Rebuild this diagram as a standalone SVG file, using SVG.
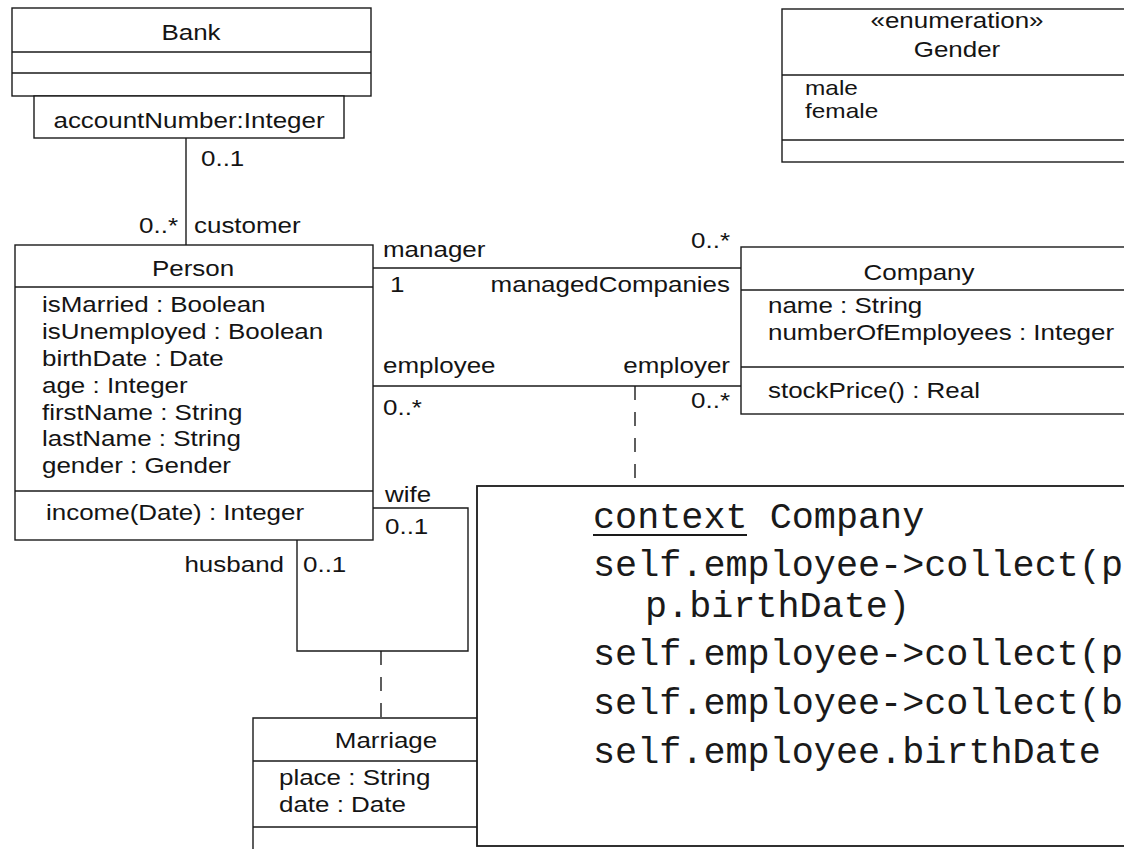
<svg xmlns="http://www.w3.org/2000/svg" width="1124" height="849" viewBox="0 0 1124 849">
  <style>
    .box { fill: #ffffff; stroke: #1a1a1a; stroke-width: 1.4; }
    .div { fill: none; stroke: #1a1a1a; stroke-width: 1.4; }
    .link { fill: none; stroke: #1a1a1a; stroke-width: 1.4; }
    .dash { fill: none; stroke: #1a1a1a; stroke-width: 1.4; stroke-dasharray: 14 12; }
    .t { font-family: "Liberation Sans", Arial, sans-serif; font-size: 22px; fill: #141414; }
    .m { text-anchor: middle; }
    .e { text-anchor: end; }
    .code { font-family: "Liberation Mono", "Courier New", monospace; font-size: 36.8px; fill: #1a1a1a; }
  </style>

  <rect width="1124" height="849" fill="#ffffff"/>

  <!-- connectors -->
  <g id="connectors">
    <!-- Bank qualifier to Person -->
    <line class="link" x1="186" y1="138" x2="186" y2="245"/>
    <!-- manager / managedCompanies -->
    <line class="link" x1="373" y1="268" x2="741" y2="268"/>
    <!-- employee / employer -->
    <line class="link" x1="373" y1="386" x2="741" y2="386"/>
    <line class="dash" x1="635" y1="386" x2="635" y2="486"/>
    <!-- wife / husband self association -->
    <polyline class="link" points="373,508 468,508 468,651 297,651 297,540"/>
    <line class="dash" x1="381" y1="651" x2="381" y2="718"/>

    <g class="t">
      <text transform="translate(201 166) scale(1.18 1)">0..1</text>
      <text class="e" transform="translate(178 233) scale(1.18 1)">0..*</text>
      <text transform="translate(194 233) scale(1.18 1)">customer</text>

      <text transform="translate(383 257) scale(1.18 1)">manager</text>
      <text class="e" transform="translate(730 248) scale(1.18 1)">0..*</text>
      <text transform="translate(390 292) scale(1.18 1)">1</text>
      <text class="e" transform="translate(730 292) scale(1.18 1)">managedCompanies</text>

      <text transform="translate(383 373) scale(1.18 1)">employee</text>
      <text class="e" transform="translate(730 373) scale(1.18 1)">employer</text>
      <text transform="translate(383 415) scale(1.18 1)">0..*</text>
      <text class="e" transform="translate(730 408) scale(1.18 1)">0..*</text>

      <text transform="translate(385 502) scale(1.18 1)">wife</text>
      <text transform="translate(385 534) scale(1.18 1)">0..1</text>
      <text class="e" transform="translate(284 572) scale(1.18 1)">husband</text>
      <text transform="translate(303 572) scale(1.18 1)">0..1</text>
    </g>
  </g>

  <!-- Bank with qualifier -->
  <g id="bank" class="t">
    <rect class="box" x="12" y="8" width="359" height="88"/>
    <line class="div" x1="12" y1="52" x2="371" y2="52"/>
    <line class="div" x1="12" y1="73" x2="371" y2="73"/>
    <text class="m" transform="translate(191 40) scale(1.18 1)">Bank</text>
    <rect class="box" x="34" y="96" width="310" height="42"/>
    <text class="m" transform="translate(189 128) scale(1.18 1)">accountNumber:Integer</text>
  </g>

  <!-- Gender enumeration -->
  <g id="gender" class="t">
    <rect class="box" x="782" y="9" width="360" height="153"/>
    <line class="div" x1="782" y1="75" x2="1142" y2="75"/>
    <line class="div" x1="782" y1="140" x2="1142" y2="140"/>
    <text class="m" transform="translate(957 28) scale(1.18 1)">«enumeration»</text>
    <text class="m" transform="translate(957 57) scale(1.18 1)">Gender</text>
    <text transform="translate(805 95) scale(1.22 1)" font-size="20">male</text>
    <text transform="translate(805 118) scale(1.22 1)" font-size="20">female</text>
  </g>

  <!-- Person -->
  <g id="person" class="t">
    <rect class="box" x="15" y="245" width="358" height="295"/>
    <line class="div" x1="15" y1="287" x2="373" y2="287"/>
    <line class="div" x1="15" y1="491" x2="373" y2="491"/>
    <text class="m" transform="translate(193 276) scale(1.18 1)">Person</text>
    <text transform="translate(42 312) scale(1.18 1)">isMarried : Boolean</text>
    <text transform="translate(42 339) scale(1.18 1)">isUnemployed : Boolean</text>
    <text transform="translate(42 366) scale(1.18 1)">birthDate : Date</text>
    <text transform="translate(42 392.5) scale(1.18 1)">age : Integer</text>
    <text transform="translate(42 419.5) scale(1.18 1)">firstName : String</text>
    <text transform="translate(42 446) scale(1.18 1)">lastName : String</text>
    <text transform="translate(42 473) scale(1.18 1)">gender : Gender</text>
    <text transform="translate(46 520) scale(1.18 1)">income(Date) : Integer</text>
  </g>

  <!-- Company -->
  <g id="company" class="t">
    <rect class="box" x="741" y="247" width="400" height="167"/>
    <line class="div" x1="741" y1="290" x2="1141" y2="290"/>
    <line class="div" x1="741" y1="367" x2="1141" y2="367"/>
    <text class="m" transform="translate(919 280) scale(1.18 1)">Company</text>
    <text transform="translate(768 313) scale(1.18 1)">name : String</text>
    <text transform="translate(768 340) scale(1.18 1)">numberOfEmployees : Integer</text>
    <text transform="translate(768 398) scale(1.18 1)">stockPrice() : Real</text>
  </g>

  <!-- Marriage association class (its right part runs under the note) -->
  <g id="marriage" class="t">
    <rect x="253" y="718" width="227" height="135" fill="#ffffff"/>
    <path class="div" d="M480,718 H253 V853 M253,761 H480 M253,827 H480"/>
    <text class="m" transform="translate(386 748) scale(1.18 1)">Marriage</text>
    <text transform="translate(279 785) scale(1.18 1)">place : String</text>
    <text transform="translate(279 812) scale(1.18 1)">date : Date</text>
  </g>

  <!-- OCL expressions -->
  <g id="ocl-note">
    <rect x="477" y="486" width="680" height="360" fill="#ffffff" stroke="#1a1a1a" stroke-width="1.8"/>
    <text class="code" x="593" y="528">context Company</text>
    <line x1="593" y1="535" x2="747" y2="535" stroke="#1a1a1a" stroke-width="2"/>
    <text class="code" x="593" y="576">self.employee-&gt;collect(p</text>
    <text class="code" x="645" y="617">p.birthDate)</text>
    <text class="code" x="593" y="665">self.employee-&gt;collect(p</text>
    <text class="code" x="593" y="714">self.employee-&gt;collect(b</text>
    <text class="code" x="593" y="763">self.employee.birthDate</text>
  </g>
</svg>
